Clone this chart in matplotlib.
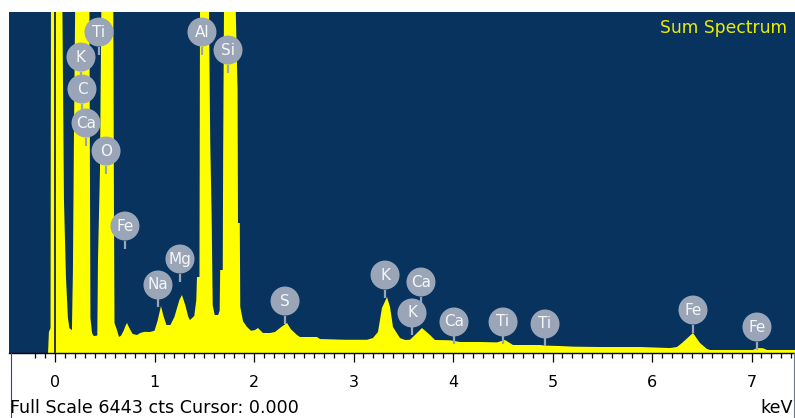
import matplotlib
matplotlib.use("Agg")
import matplotlib.pyplot as plt
from matplotlib.lines import Line2D
import numpy as np

# ---- data ----
FULL_SCALE = 6443  # counts at top of the window

energy_kev = [
    -0.07, -0.061, -0.045, -0.040, -0.030, 0.030, 0.072, 0.090, 0.110, 0.130, 0.145, 0.170,
    0.180, 0.190, 0.205, 0.270, 0.345, 0.352, 0.356, 0.372, 0.390, 0.425, 0.432, 0.452,
    0.468, 0.525, 0.585, 0.592, 0.598, 0.620, 0.643, 0.665, 0.690, 0.710, 0.724, 0.745,
    0.780, 0.824, 0.860, 0.900, 0.955, 1.000, 1.030, 1.065, 1.090, 1.120, 1.160, 1.200,
    1.250, 1.276, 1.310, 1.340, 1.357, 1.400, 1.420, 1.427, 1.452, 1.458, 1.500, 1.545,
    1.560, 1.575, 1.585, 1.605, 1.640, 1.655, 1.660, 1.686, 1.690, 1.700, 1.755, 1.810,
    1.835, 1.839, 1.857, 1.862, 1.890, 1.930, 1.970, 2.010, 2.040, 2.090, 2.160, 2.211,
    2.280, 2.332, 2.370, 2.432, 2.462, 2.633, 2.663, 2.915, 3.136, 3.196, 3.246, 3.286,
    3.337, 3.367, 3.397, 3.467, 3.518, 3.568, 3.618, 3.688, 3.769, 3.819, 3.970, 4.070,
    4.271, 4.442, 4.523, 4.603, 4.874, 4.925, 5.075, 5.206, 5.477, 5.879, 6.181, 6.251,
    6.302, 6.412, 6.482, 6.553, 6.583, 7.015, 7.055, 7.116, 7.156, 7.440,
]
counts = [
    0, 397, 470, 7000, 20000, 20000, 7000, 2890, 1436, 661, 470, 430,
    1530, 4000, 7000, 30000, 7000, 3000, 661, 378, 320, 330, 1757, 3457,
    7000, 30000, 7000, 3000, 567, 450, 302, 330, 420, 520, 567, 480,
    360, 340, 380, 400, 397, 420, 600, 888, 700, 529, 529, 680,
    1000, 1096, 900, 680, 623, 700, 1000, 1436, 1436, 7000, 30000, 7000,
    4000, 2500, 900, 718, 718, 800, 1568, 1568, 3740, 7000, 30000, 7000,
    4968, 2456, 2456, 869, 600, 491, 420, 434, 472, 378, 378, 397,
    500, 567, 450, 340, 302, 302, 264, 250, 250, 283, 397, 850,
    1058, 869, 491, 283, 246, 250, 340, 472, 340, 246, 240, 208,
    208, 200, 246, 151, 151, 140, 132, 120, 113, 113, 94, 113,
    189, 378, 189, 76, 57, 57, 94, 90, 57, 57,
]

label_names = ["Ti", "K", "C", "Ca", "O", "Fe", "Na", "Mg", "Al", "Si",
               "S", "K", "Ca", "K", "Ca", "Ti", "Ti", "Fe", "Fe"]
label_energy = [0.442, 0.261, 0.271, 0.312, 0.513, 0.703, 1.035, 1.256, 1.477, 1.739,
                2.312, 3.317, 3.678, 3.588, 4.010, 4.503, 4.925, 6.412, 7.055]
label_counts = [6064, 5591, 4987, 4345, 3816, 2399, 1285, 1776, 6064, 5724,
                982, 1473, 1341, 756, 586, 586, 548, 812, 491]

xticks = [0, 1, 2, 3, 4, 5, 6, 7]

# ---- styling ----
W, H = 795, 418
BG = "#08335f"
YEL = "#ffff00"
BADGE = "#9aa6b8"
FONT = ["DejaVu Sans"]

fig = plt.figure(figsize=(W / 100, H / 100), dpi=100)
fig.patch.set_facecolor("white")
ax_left, ax_right, ax_top, ax_bot = 9, 795, 12, 353
ax = fig.add_axes([ax_left / W, (H - ax_bot) / H, (ax_right - ax_left) / W, (ax_bot - ax_top) / H])
ax.set_facecolor(BG)

px_per_kev = 99.5
x0_px = 55
ax.set_xlim((ax_left - x0_px) / px_per_kev, (ax_right - x0_px) / px_per_kev)
ax.set_ylim(0, FULL_SCALE)
cnt_per_px = FULL_SCALE / (ax_bot - ax_top)

ax.fill_between(energy_kev, counts, 0, color=YEL, lw=0, zorder=2)
ax.axvline(0, color="#2e3436", lw=1.4, zorder=3)

# element badges
r_px = 14.5
for name, e, c in zip(label_names, label_energy, label_counts):
    ax.vlines(e, c - (r_px + 8) * cnt_per_px, c - r_px * cnt_per_px, color=BADGE, lw=1.6, zorder=4)
    ax.scatter([e], [c], s=(2 * r_px * 0.72) ** 2, color=BADGE, edgecolors="none", zorder=5)
    ax.text(e, c, name, color="#f4f6f8", ha="center", va="center", fontsize=11,
            family=FONT, zorder=6)

fig.text(787 / W, 1 - 28 / H, "Sum Spectrum", ha="right", va="center",
         color="#ecec00", fontsize=12.3, family=FONT)

# axes / ticks
for s in ["top", "right", "left"]:
    ax.spines[s].set_visible(False)
ax.spines["bottom"].set_color("black")
ax.spines["bottom"].set_linewidth(1.0)
ax.set_yticks([])
ax.set_xticks(xticks)
ax.set_xticklabels([str(t) for t in xticks], family=FONT, fontsize=11.5)
ax.set_xticks(np.arange(-0.2, 7.45, 0.1), minor=True)
ax.tick_params(axis="x", which="major", length=6.5, width=0.9, direction="out", pad=9, colors="black")
ax.tick_params(axis="x", which="minor", length=3.6, width=0.9, direction="out", colors="black")

fig.text(10 / W, 1 - 408 / H, "Full Scale 6443 cts Cursor: 0.000", ha="left", va="center",
         fontsize=12.6, family=FONT, color="black")
fig.text(793 / W, 1 - 408 / H, "keV", ha="right", va="center", fontsize=12.6, family=FONT, color="black")

# window borders
fig.add_artist(Line2D([10.5 / W, 10.5 / W], [0, 1 - 353 / H], transform=fig.transFigure,
                      color="#2a4a80", lw=0.8))
fig.add_artist(Line2D([793.5 / W, 793.5 / W], [0, 1 - 353 / H], transform=fig.transFigure,
                      color="#6a7a90", lw=0.8))

fig.savefig("out.png", dpi=100, facecolor="white")
